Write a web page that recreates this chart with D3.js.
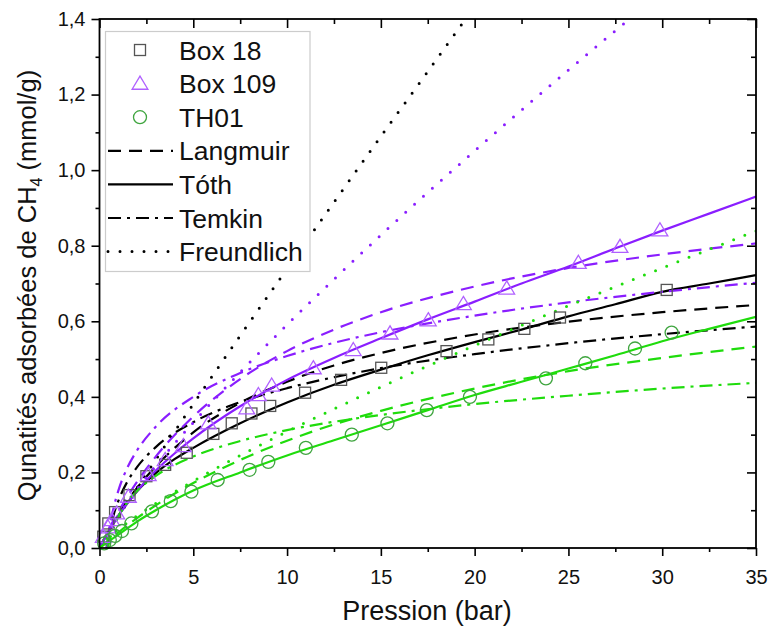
<!DOCTYPE html>
<html><head><meta charset="utf-8">
<script src="https://cdn.jsdelivr.net/npm/d3@7"></script>
<style>body{margin:0;background:#fff}svg{display:block;font-family:"Liberation Sans",Arial,sans-serif}</style>
</head><body><svg id="c" width="771" height="635"></svg>
<script>
// ---- axis ticks ----
const xTicks = [0, 5, 10, 15, 20, 25, 30, 35];
const xMinor = [2.5, 7.5, 12.5, 17.5, 22.5, 27.5, 32.5];
const yTicks = [0, 0.2, 0.4, 0.6, 0.8, 1.0, 1.2, 1.4];
const yMinor = [0.1, 0.3, 0.5, 0.7, 0.9, 1.1, 1.3];

// ---- measured data [P (bar), q (mmol/g)] ----
const box18 = [[0.2,0.03],[0.47,0.065],[0.83,0.095],[1.6,0.14],[2.5,0.19],[3.5,0.22],[4.65,0.252],[6.07,0.302],[7.05,0.33],[8.1,0.356],[9.1,0.376],[10.96,0.411],[12.88,0.445],[15.02,0.477],[18.5,0.521],[20.73,0.552],[22.65,0.58],[24.55,0.61],[30.24,0.683]];
const box109 = [[0.2,0.03],[0.45,0.055],[0.65,0.074],[0.92,0.092],[1.54,0.136],[2.6,0.193],[3.5,0.233],[4.47,0.27],[5.8,0.33],[7.85,0.37],[8.47,0.405],[9.18,0.43],[11.4,0.476],[13.53,0.524],[15.49,0.568],[17.53,0.603],[19.4,0.646],[21.71,0.687],[25.53,0.755],[27.75,0.797],[29.88,0.841]];
const th01 = [[0.25,0.012],[0.55,0.021],[0.83,0.032],[1.2,0.045],[1.7,0.065],[2.8,0.097],[3.8,0.124],[4.9,0.149],[6.3,0.18],[8.0,0.207],[9.0,0.228],[11.0,0.265],[13.45,0.3],[15.35,0.33],[17.45,0.365],[19.75,0.40],[23.8,0.449],[25.9,0.489],[28.55,0.528],[30.5,0.57]];

// ---- model curves [P, q] ----
const langmuirBox18 = [[0,0],[0.5,0.047],[1,0.089],[2,0.159],[3,0.216],[5,0.306],[7.5,0.384],[10,0.44],[12.5,0.483],[15,0.516],[20,0.565],[25,0.599],[30,0.624],[35,0.643]];
const tothBox18 = [[0,0],[0.5,0.045],[1,0.085],[2,0.15],[3,0.198],[4,0.235],[5,0.265],[7.5,0.33],[10,0.385],[12.5,0.432],[15,0.472],[17.5,0.51],[20,0.545],[22.5,0.578],[25,0.613],[27.5,0.645],[30,0.678],[32.5,0.70],[35,0.722]];
const temkinBox18 = [[0.385,0],[0.5,0.034],[0.75,0.087],[1,0.124],[1.5,0.177],[2,0.214],[3,0.267],[5,0.333],[7.5,0.386],[10,0.423],[12.5,0.452],[15,0.476],[20,0.513],[25,0.542],[30,0.566],[35,0.586]];
const freundlichBox18 = [[0,0],[0.5,0.042],[1,0.082],[2,0.159],[3,0.234],[5,0.381],[7.5,0.562],[10,0.739],[12.5,0.915],[15,1.089],[17.5,1.261],[20,1.433]];

const langmuirBox109 = [[0,0],[0.5,0.05],[1,0.0955],[2,0.175],[3,0.242],[5,0.348],[7.5,0.447],[10,0.521],[12.5,0.578],[15,0.624],[20,0.692],[25,0.741],[30,0.777],[35,0.806]];
const tothBox109 = [[0,0],[0.5,0.045],[1,0.085],[2,0.15],[3,0.205],[4,0.25],[5,0.29],[7.5,0.375],[10,0.445],[12.5,0.503],[15,0.555],[17.5,0.605],[20,0.652],[22.5,0.70],[25,0.745],[27.5,0.793],[30,0.84],[32.5,0.885],[35,0.93]];
const temkinBox109 = [[0.378,0],[0.5,0.044],[0.75,0.106],[1,0.151],[1.5,0.214],[2,0.258],[3,0.321],[5,0.4],[7.5,0.463],[10,0.508],[12.5,0.543],[15,0.571],[20,0.615],[25,0.65],[30,0.678],[35,0.702]];
const freundlichBox109 = [[0,0],[0.5,0.049],[1,0.087],[2,0.155],[3,0.218],[5,0.332],[7.5,0.465],[10,0.591],[12.5,0.711],[15,0.828],[20,1.051],[25,1.265],[30,1.471]];

const langmuirTH01 = [[0,0],[0.5,0.021],[1,0.041],[2,0.079],[3,0.113],[5,0.172],[7.5,0.233],[10,0.284],[12.5,0.327],[15,0.363],[20,0.422],[25,0.468],[30,0.503],[35,0.533]];
const tothTH01 = [[0,0],[0.5,0.018],[1,0.035],[2,0.07],[3,0.1],[5,0.152],[7.5,0.2],[10,0.245],[12.5,0.285],[15,0.325],[17.5,0.365],[20,0.405],[22.5,0.44],[25,0.475],[27.5,0.51],[30,0.547],[32.5,0.58],[35,0.612]];
const temkinTH01 = [[0.443,0],[0.5,0.012],[0.75,0.053],[1,0.082],[1.5,0.122],[2,0.151],[3,0.191],[5,0.242],[7.5,0.283],[10,0.312],[12.5,0.334],[15,0.352],[20,0.381],[25,0.403],[30,0.422],[35,0.437]];
const freundlichTH01 = [[0,0],[0.5,0.028],[1,0.049],[2,0.085],[3,0.118],[5,0.177],[7.5,0.245],[10,0.308],[12.5,0.368],[15,0.426],[20,0.536],[25,0.641],[30,0.741],[35,0.839]];

const sampleNames = ["Box 18", "Box 109", "TH01"];
const modelNames = ["Langmuir", "Tóth", "Temkin", "Freundlich"];

// ---- styles ----
const lineColor = {"Box 18": "#000000", "Box 109": "#8a1eff", "TH01": "#1fdc0c"};
const markerColor = {"Box 18": "#555555", "Box 109": "#b060ff", "TH01": "#3fa53f"};
const dash = {"Langmuir": "13,8", "Tóth": null, "Temkin": "13,6,3,6", "Freundlich": "0,12"};

const svg = d3.select("#c");
const L = 99.5, R = 756, T = 19, B = 548;
const x = d3.scaleLinear().domain([0, 35]).range([L, R]);
const y = d3.scaleLinear().domain([0, 1.4]).range([B, T]);
const fmt = d => d3.format(".1f")(d).replace(".", ",");

svg.append("defs").append("clipPath").attr("id", "clip")
  .append("rect").attr("x", L).attr("y", T).attr("width", R - L).attr("height", B - T);

const curves = [
  ["Box 18", "Langmuir", langmuirBox18], ["Box 18", "Tóth", tothBox18], ["Box 18", "Temkin", temkinBox18], ["Box 18", "Freundlich", freundlichBox18],
  ["Box 109", "Langmuir", langmuirBox109], ["Box 109", "Tóth", tothBox109], ["Box 109", "Temkin", temkinBox109], ["Box 109", "Freundlich", freundlichBox109],
  ["TH01", "Langmuir", langmuirTH01], ["TH01", "Tóth", tothTH01], ["TH01", "Temkin", temkinTH01], ["TH01", "Freundlich", freundlichTH01]
];
const line = d3.line().x(d => x(d[0])).y(d => y(d[1])).curve(d3.curveMonotoneX);

const plot = svg.append("g").attr("clip-path", "url(#clip)");
curves.forEach(([s, m, data]) => {
  plot.append("path").attr("d", line(data)).attr("fill", "none")
    .attr("stroke", lineColor[s]).attr("stroke-width", m === "Freundlich" ? 3 : 2.2)
    .attr("stroke-linecap", m === "Freundlich" ? "round" : "butt")
    .attr("stroke-dasharray", dash[m]);
});

function marker(g, s, cx, cy) {
  const c = markerColor[s];
  if (s === "Box 18") {
    g.append("rect").attr("x", cx - 5.5).attr("y", cy - 5.5).attr("width", 11).attr("height", 11)
      .attr("fill", "none").attr("stroke", c).attr("stroke-width", 1.3);
  } else if (s === "Box 109") {
    const h = 7.5;
    g.append("path").attr("d", `M${cx},${cy - h}L${cx + h * 1.05},${cy + h * 0.75}L${cx - h * 1.05},${cy + h * 0.75}Z`)
      .attr("fill", "none").attr("stroke", c).attr("stroke-width", 1.3);
  } else {
    g.append("circle").attr("cx", cx).attr("cy", cy).attr("r", 6.5)
      .attr("fill", "none").attr("stroke", c).attr("stroke-width", 1.3);
  }
}
const mg = svg.append("g");
[["Box 18", box18], ["Box 109", box109], ["TH01", th01]].forEach(([s, data]) => {
  data.forEach(d => marker(mg, s, x(d[0]), y(d[1])));
});

// ---- axes ----
function styleAxis(g) {
  g.select(".domain").remove();
  g.selectAll("line").attr("stroke", "#000").attr("stroke-width", 1.6);
  g.selectAll("text").attr("font-size", 20).attr("fill", "#111").attr("font-family", "Liberation Sans, Arial, sans-serif");
}
svg.append("g").attr("transform", `translate(0,${B})`)
  .call(d3.axisBottom(x).tickValues(xTicks).tickSize(8).tickPadding(14).tickFormat(d3.format("d"))).call(styleAxis);
svg.append("g").attr("transform", `translate(0,${B})`)
  .call(d3.axisBottom(x).tickValues(xMinor).tickSize(4).tickFormat("")).call(styleAxis);
svg.append("g").attr("transform", `translate(${L},0)`)
  .call(d3.axisLeft(y).tickValues(yTicks).tickSize(8).tickPadding(6).tickFormat(fmt)).call(styleAxis);
svg.append("g").attr("transform", `translate(${L},0)`)
  .call(d3.axisLeft(y).tickValues(yMinor).tickSize(4).tickFormat("")).call(styleAxis);
svg.append("g").attr("transform", `translate(0,${T})`)
  .call(d3.axisTop(x).tickValues(xTicks).tickSize(-9).tickFormat("")).call(styleAxis);
svg.append("g").attr("transform", `translate(0,${T})`)
  .call(d3.axisTop(x).tickValues(xMinor).tickSize(-5).tickFormat("")).call(styleAxis);
svg.append("g").attr("transform", `translate(${R},0)`)
  .call(d3.axisRight(y).tickValues(yTicks).tickSize(-9).tickFormat("")).call(styleAxis);
svg.append("g").attr("transform", `translate(${R},0)`)
  .call(d3.axisRight(y).tickValues(yMinor).tickSize(-5).tickFormat("")).call(styleAxis);
svg.append("rect").attr("x", L).attr("y", T).attr("width", R - L).attr("height", B - T)
  .attr("fill", "none").attr("stroke", "#000").attr("stroke-width", 1.8);

// ---- titles ----
svg.append("text").attr("x", 427).attr("y", 620).attr("text-anchor", "middle")
  .attr("font-size", 27).attr("fill", "#111").text("Pression (bar)");
const yt = svg.append("text").attr("transform", `translate(36,${(T + B) / 2 + 2}) rotate(-90)`)
  .attr("text-anchor", "middle").attr("font-size", 25.5).attr("fill", "#111");
yt.append("tspan").text("Qunatités adsorbées de CH");
yt.append("tspan").attr("font-size", 16).attr("dy", 6).text("4");
yt.append("tspan").attr("dy", -6).text(" (mmol/g)");

// ---- legend ----
const lg = svg.append("g");
lg.append("rect").attr("x", 105.5).attr("y", 31.5).attr("width", 204.5).attr("height", 240)
  .attr("fill", "#fff").attr("stroke", "#cccccc").attr("stroke-width", 1.2);
const rowY = i => 50 + i * 33.6;
sampleNames.forEach((s, i) => {
  marker(lg, s, 140, rowY(i));
  lg.append("text").attr("x", 179).attr("y", rowY(i)).attr("dy", "0.36em")
    .attr("font-size", 26.5).attr("fill", "#111").text(s);
});
modelNames.forEach((m, j) => {
  const i = j + 3;
  lg.append("line").attr("x1", 108).attr("x2", 173).attr("y1", rowY(i)).attr("y2", rowY(i))
    .attr("stroke", "#000").attr("stroke-width", m === "Freundlich" ? 3 : 2.2)
    .attr("stroke-linecap", m === "Freundlich" ? "round" : "butt")
    .attr("stroke-dasharray", dash[m]);
  lg.append("text").attr("x", 179).attr("y", rowY(i)).attr("dy", "0.36em")
    .attr("font-size", 26.5).attr("fill", "#111").text(m);
});
</script></body></html>
